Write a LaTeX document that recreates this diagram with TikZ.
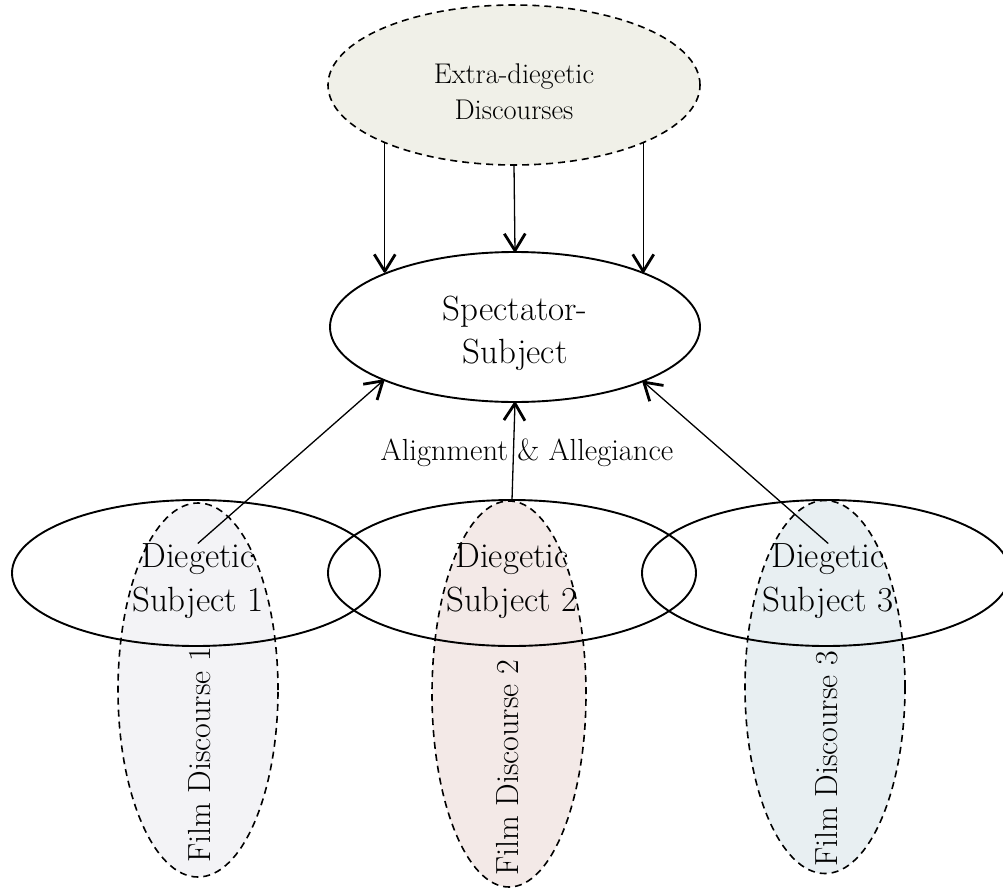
\documentclass[tikz,border=0pt]{standalone}
\usetikzlibrary{arrows.meta,shapes.geometric}
\definecolor{extrafill}{RGB}{240,240,232}
\definecolor{fdonefill}{RGB}{243,243,246}
\definecolor{fdtwofill}{RGB}{243,233,231}
\definecolor{fdthreefill}{RGB}{232,239,242}
\begin{document}
\begin{tikzpicture}[x=1pt,y=-1pt,
  oval/.style={ellipse, inner sep=0pt, outer sep=0pt},
  solidoval/.style={oval, draw=black, line width=1.9pt},
  dashoval/.style={oval, draw=black, line width=1.6pt, dash pattern=on 7pt off 5pt},
  lbl/.style={inner sep=0pt, align=center},
  arr/.style={line width=1.3pt, line cap=round,
    -{Straight Barb[length=17pt,width=21pt,line width=2.8pt,line join=round]}}
]
\useasboundingbox (0,0) rectangle (1003,888);

% film discourse ovals (behind everything)
\node[dashoval, fill=fdonefill, minimum width=160, minimum height=374] (f1) at (198,690) {};
\node[dashoval, fill=fdtwofill, minimum width=154, minimum height=386] (f2) at (509,694) {};
\node[dashoval, fill=fdthreefill, minimum width=160, minimum height=373] (f3) at (825,687) {};

% extra-diegetic discourses
\node[dashoval, fill=extrafill, minimum width=372, minimum height=160] (ex) at (514,85) {};
\node[lbl, font=\fontsize{28.5}{36}\selectfont] (ext) at (514,92) {Extra-diegetic\\Discourses};

% spectator-subject
\node[solidoval, minimum width=370, minimum height=150] (sp) at (515,327) {};
\node[lbl, font=\fontsize{35}{43}\selectfont] (spt) at (515,333) {Spectator-\\Subject};

% diegetic subjects
\node[solidoval, minimum width=368, minimum height=146] (d1) at (196,573) {};
\node[solidoval, minimum width=368, minimum height=146] (d2) at (512,573) {};
\node[solidoval, minimum width=368, minimum height=146] (d3) at (826,573) {};
\node[lbl, font=\fontsize{35}{44}\selectfont] (t1) at (198,581) {Diegetic\\Subject 1};
\node[lbl, font=\fontsize{35}{44}\selectfont] (t2) at (512,581) {Diegetic\\Subject 2};
\node[lbl, font=\fontsize{35}{44}\selectfont] (t3) at (828,581) {Diegetic\\Subject 3};

% film discourse labels
\node[lbl, rotate=90, font=\fontsize{32}{38}\selectfont] (fl1) at (200,755) {Film Discourse 1};
\node[lbl, rotate=90, font=\fontsize{32}{38}\selectfont] (fl2) at (508,768) {Film Discourse 2};
\node[lbl, rotate=90, font=\fontsize{32}{38}\selectfont] (fl3) at (827,759) {Film Discourse 3};

% alignment label
\node[inner sep=0pt, anchor=base, font=\fontsize{30.5}{36}\selectfont] (al) at (527,460) {Alignment \& Allegiance};

% arrows from the extra-diegetic discourses
\draw[arr] (ex.204.2) -- (ex.204.2 |- sp.157.4);
\draw[arr] (ex.south) -- (sp.north);
\draw[arr] (ex.336.6) -- (ex.336.6 |- sp.23.3);

% arrows from the diegetic subjects
\draw[arr] (t1.north) -- (sp.202.6);
\draw[arr] (d2.north) -- (sp.south);
\draw[arr] (t3.north) -- (sp.337.4);
\end{tikzpicture}
\end{document}
